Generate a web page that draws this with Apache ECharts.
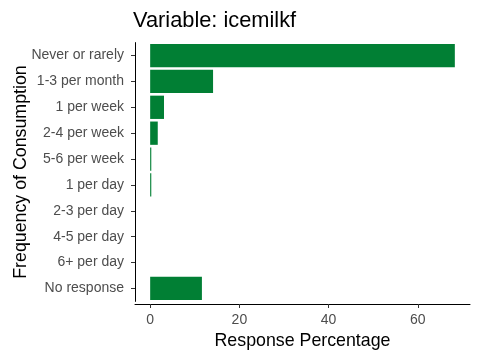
<!DOCTYPE html>
<html>
<head>
<meta charset="utf-8">
<script src="https://cdn.jsdelivr.net/npm/echarts@6/dist/echarts.min.js"></script>
<style>html,body{margin:0;padding:0;background:#fff;}#c{width:480px;height:360px;}</style>
</head>
<body>
<div id="c"></div>
<script>
var categories = ["Never or rarely","1-3 per month","1 per week","2-4 per week","5-6 per week","1 per day","2-3 per day","4-5 per day","6+ per day","No response"];
var values = [68.3, 14.1, 3.1, 1.7, 0.25, 0.25, 0, 0, 0, 11.6];
var xTicks = [0, 20, 40, 60];
var titleText = "Variable: icemilkf";
var xTitle = "Response Percentage";
var yTitle = "Frequency of Consumption";

var chart = echarts.init(document.getElementById('c'), null, {renderer: 'canvas'});
var font = 'Liberation Sans, Arial, sans-serif';
chart.setOption({
  animation: false,
  backgroundColor: '#ffffff',
  title: {
    text: titleText, left: 128, top: 5,
    textStyle: {fontFamily: font, fontSize: 21.8, fontWeight: 'normal', color: '#000'}
  },
  grid: {left: 135, right: 10, top: 42.6, bottom: 58.6, containLabel: false, outerBoundsMode: 'none'},
  xAxis: {
    type: 'value', min: -3.4, max: 71.7, offset: 2.6,
    name: xTitle, nameLocation: 'middle', nameGap: 28, nameMoveOverlap: false,
    nameTextStyle: {fontFamily: font, fontSize: 17.8, color: '#000'},
    axisLine: {show: true, onZero: false, lineStyle: {color: '#000', width: 1}},
    axisTick: {show: true, length: 4, lineStyle: {color: '#333'},
      customValues: xTicks},
    axisLabel: {fontFamily: font, fontSize: 14, color: '#4D4D4D', margin: 9,
      customValues: xTicks, showMinLabel: true, showMaxLabel: true},
    splitLine: {show: false}
  },
  yAxis: {
    type: 'category', data: categories, inverse: true,
    name: yTitle, nameLocation: 'middle', nameGap: 105, nameMoveOverlap: false,
    nameTextStyle: {fontFamily: font, fontSize: 17.8, color: '#000'},
    axisLine: {show: true, onZero: false, lineStyle: {color: '#000', width: 1}},
    axisTick: {show: true, length: 4, alignWithLabel: true, lineStyle: {color: '#333'}},
    axisLabel: {fontFamily: font, fontSize: 14, color: '#4D4D4D', margin: 11},
    splitLine: {show: false}
  },
  series: [{
    type: 'bar', data: values, barWidth: '90%',
    itemStyle: {color: '#017F34'}
  }]
});
</script>
</body>
</html>
